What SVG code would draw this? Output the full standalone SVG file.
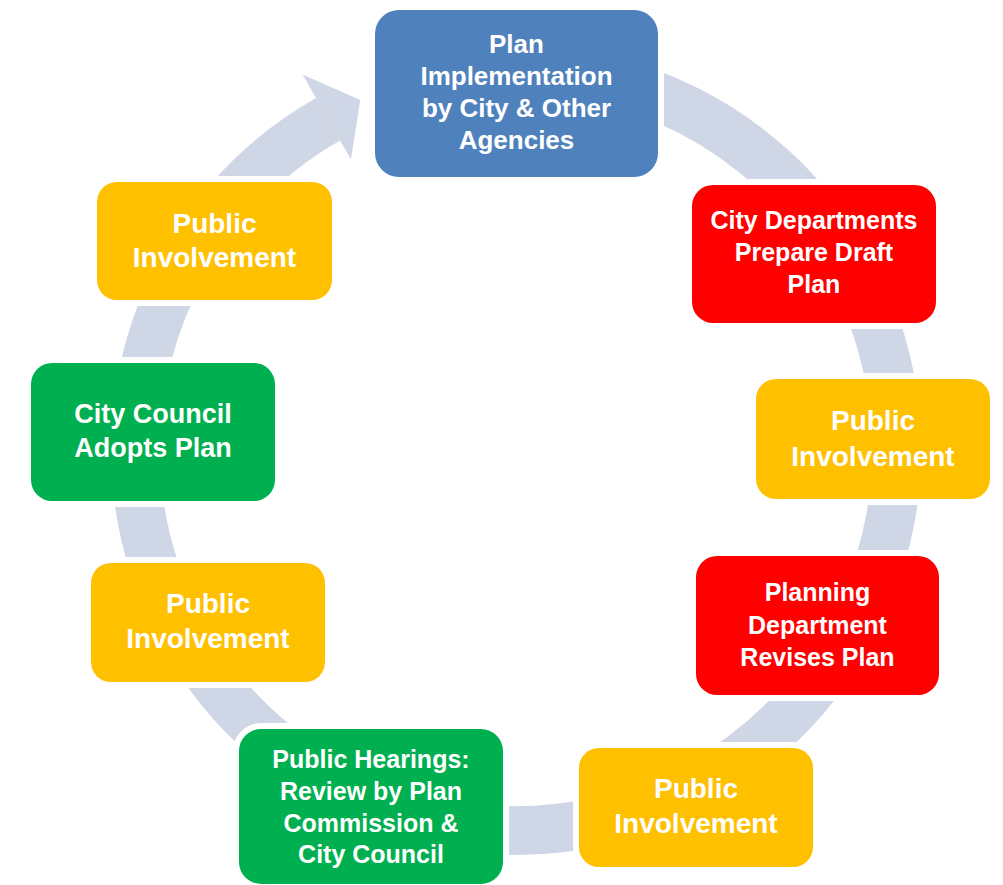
<svg xmlns="http://www.w3.org/2000/svg" width="1003" height="885" viewBox="0 0 1003 885">
<style>
.box{stroke:#fff;stroke-width:12;paint-order:stroke}
.blue{fill:#4F81BD}.red{fill:#FF0000}.yel{fill:#FFC000}.grn{fill:#00B050}
text{font-family:"Liberation Sans",Arial,sans-serif;font-weight:bold;fill:#fff;text-anchor:middle}
.t25{font-size:25px}.t26{font-size:26px}.t27{font-size:27px}.t28{font-size:28px}
.ring{fill:none;stroke:#CFD6E6;stroke-width:49}
</style>
<rect width="1003" height="885" fill="#fff"/>
<g id="connectors">
<path class="ring" d="M417.5,82.5 A380.5,380.5 0 1 1 328.1,119.2"/>
<polygon points="302.6,74.4 360.2,100.1 351,159.6" fill="#CFD6E6"/>
</g>
<g id="n1"><rect class="box blue" x="375" y="10" width="283" height="167" rx="24"/>
<text class="t26" x="516.5" y="53">Plan</text><text class="t26" x="516.5" y="85">Implementation</text><text class="t26" x="516.5" y="117">by City &amp; Other</text><text class="t26" x="516.5" y="149">Agencies</text></g>
<g id="n2"><rect class="box red" x="692" y="185" width="244" height="138" rx="21"/>
<text class="t25" x="814" y="229">City Departments</text><text class="t25" x="814" y="261">Prepare Draft</text><text class="t25" x="814" y="293">Plan</text></g>
<g id="n3"><rect class="box yel" x="756" y="379" width="234" height="120" rx="20"/>
<text class="t28" x="873" y="430">Public</text><text class="t28" x="873" y="466">Involvement</text></g>
<g id="n4"><rect class="box red" x="696" y="556" width="243" height="139" rx="21"/>
<text class="t25" x="817.5" y="601">Planning</text><text class="t25" x="817.5" y="633.5">Department</text><text class="t25" x="817.5" y="666">Revises Plan</text></g>
<g id="n5"><rect class="box yel" x="579" y="748" width="234" height="119" rx="20"/>
<text class="t28" x="696" y="798">Public</text><text class="t28" x="696" y="833">Involvement</text></g>
<g id="n6"><rect class="box grn" x="239" y="729" width="264" height="155" rx="22"/>
<text class="t25" x="371" y="768">Public Hearings:</text><text class="t25" x="371" y="800">Review by Plan</text><text class="t25" x="371" y="832">Commission &amp;</text><text class="t25" x="371" y="863">City Council</text></g>
<g id="n7"><rect class="box yel" x="91" y="563" width="234" height="119" rx="20"/>
<text class="t28" x="208" y="613">Public</text><text class="t28" x="208" y="648">Involvement</text></g>
<g id="n8"><rect class="box grn" x="31" y="363" width="244" height="138" rx="21"/>
<text class="t27" x="153" y="423">City Council</text><text class="t27" x="153" y="457">Adopts Plan</text></g>
<g id="n9"><rect class="box yel" x="97" y="182" width="235" height="118" rx="20"/>
<text class="t28" x="214.5" y="233">Public</text><text class="t28" x="214.5" y="267">Involvement</text></g>
</svg>
